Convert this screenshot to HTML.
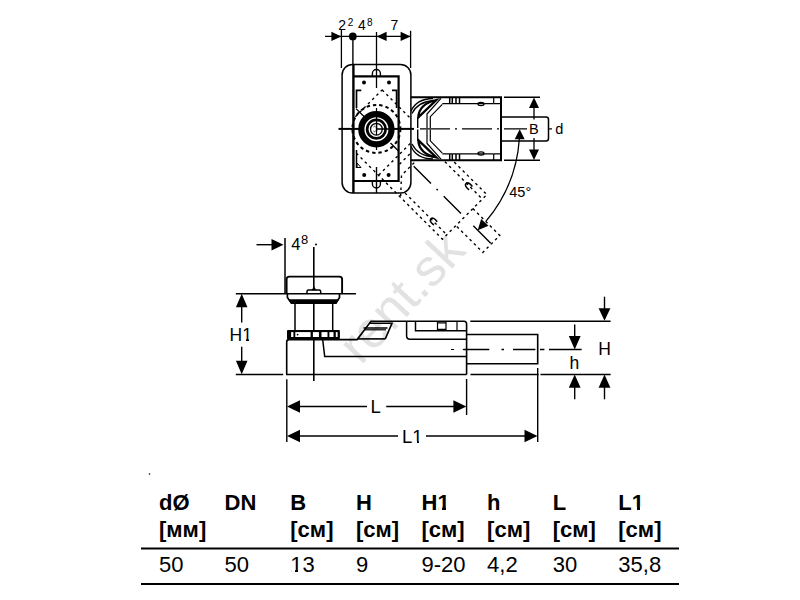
<!DOCTYPE html>
<html><head><meta charset="utf-8">
<style>
html,body{margin:0;padding:0;background:#fff;}
body{width:800px;height:600px;overflow:hidden;}
svg{display:block;}
text{font-family:"Liberation Sans",sans-serif;fill:#000;}
</style></head><body>
<svg width="800" height="600" viewBox="0 0 800 600">
<rect width="800" height="600" fill="#fff"/>
<text x="0" y="0" font-size="52" style="fill:#e2e2e2" transform="translate(361 366) rotate(-47)">rent.sk</text>
<g fill="none" stroke="#000" stroke-width="1.3" stroke-linecap="butt">
<line x1="325" y1="36.4" x2="410.6" y2="36.4" stroke-width="1.2"/>
<line x1="341.4" y1="29.7" x2="341.4" y2="68"/>
<line x1="352.9" y1="36.4" x2="352.9" y2="64.5" stroke-width="1.4"/>
<line x1="376.5" y1="32" x2="376.5" y2="88"/>
<line x1="410.6" y1="30.8" x2="410.6" y2="68"/>
<path d="M341.4 36.4 L331.4 41 L331.4 31.8 Z" fill="#000" stroke="none"/>
<path d="M376.6 36.4 L386.6 31.8 L386.6 41 Z" fill="#000" stroke="none"/>
<path d="M410.6 36.4 L400.6 41 L400.6 31.8 Z" fill="#000" stroke="none"/>
<circle cx="352.8" cy="36.4" r="3.9" fill="#000" stroke="none"/>
<rect x="342.1" y="64.5" width="68.8" height="128.5" rx="10.5" stroke-width="1.5"/>
<line x1="353.4" y1="64.5" x2="353.4" y2="193" stroke-width="2.4"/>
<path d="M353.4 76.3 H398.6 V181 H353.4" stroke-width="2.2"/>
<path d="M361.3 90.3 H356.5 V108 M392 90.3 H396.6 V108" stroke-width="1.7"/>
<path d="M356.5 150 V168" stroke-width="1.5"/>
<path d="M357 167.5 L361 167.5 L357 163 Z" fill="none" stroke-width="1"/>
<path d="M372.4 76.3 V73.5 A4 4 0 0 1 380.4 73.5 V76.3" stroke-width="1.4"/>
<path d="M372.4 181 V184 A4 4 0 0 0 380.4 184 V181" stroke-width="1.4"/>
<circle cx="364" cy="82.4" r="2" fill="#000" stroke="none"/>
<circle cx="389" cy="82.4" r="2" fill="#000" stroke="none"/>
<circle cx="364.2" cy="175" r="2" fill="#000" stroke="none"/>
<circle cx="388.6" cy="175" r="2" fill="#000" stroke="none"/>
<line x1="338.5" y1="128.9" x2="360" y2="128.9" stroke-width="2"/>
<line x1="393" y1="128.9" x2="414" y2="128.9" stroke-width="2"/>
<line x1="376.5" y1="108" x2="376.5" y2="150" stroke-width="1.2"/>
<line x1="376.5" y1="167" x2="376.5" y2="193" stroke-width="1.4"/>
<circle cx="376.4" cy="129.2" r="11.7" stroke-width="13"/>
<circle cx="376.4" cy="129.2" r="11.3" stroke="#fff" stroke-width="1.4"/>
<circle cx="376.4" cy="129.2" r="7.2" stroke="#fff" stroke-width="1.4"/>
<path d="M376.6 116.5 V131.5 M376.6 129 H390" stroke-width="1.3"/>
<path d="M373.5 127 Q374.5 125.5 375.5 127 M373.5 131 Q374.5 132.5 375.5 131" stroke-width="0.9"/>
<circle cx="376.4" cy="128.9" r="24" stroke-width="2" stroke-dasharray="3.4 3"/>
<path d="M356 108.6 L364.5 117 M390.5 143 L398.5 151" stroke-width="1.3"/>
<path d="M413.7 166.2 L431 183.5 M436.5 189 L437.8 190.3 M443.7 196.2 L461 213.5 M473.3 225.8 L490.7 243.2" stroke-width="1.4"/>
<path d="M410.7 97.3 H501 V160.2 H410.7" stroke-width="2"/>
<path d="M504 97.3 H540 M504 160.2 H540" stroke-width="1.4"/>
<path d="M501 117 H546 Q548.5 117 548.5 119.5 V138.5 Q548.5 141 546 141 H501" stroke-width="1.5"/>
<line x1="548.5" y1="128.9" x2="552" y2="128.9" stroke-width="1.2"/>
<path d="M420 128.9 H450 M455 128.9 H457 M462 128.9 H492 M497 128.9 H499 M504 128.9 H527" stroke-width="1.3"/>
<g><path d="M442.3 103.6 H493.7" stroke-width="1.3"/>
<path d="M449.7 97.3 V103.6 M452.3 97.3 V103.6 M456 97.3 V103.6 M459.5 97.3 V103.6" stroke-width="1.5"/>
<path d="M493.7 97.3 V103.6 M501 103.6 H493.7" stroke-width="1.2"/>
<ellipse cx="481" cy="104" rx="3" ry="1.6" stroke-width="1.3"/>
<path d="M441 98.3 L427 114 V128" stroke-width="1.2"/>
<path d="M442.3 104.3 L430.3 116.7 V128" stroke-width="1.2"/>
<path d="M411 111.3 Q416 99 433 98.5" stroke-width="1.3"/>
<path d="M412 113.5 Q418 101.5 434 100.5" stroke-width="1.3"/>
<path d="M418.3 117.3 Q419 104 436.3 100 L418.3 117.3 Z" stroke-width="2.3"/>
<path d="M417.7 117 V128" stroke-width="1.4"/></g>
<g transform="translate(0 257.5) scale(1 -1)"><path d="M442.3 103.6 H493.7" stroke-width="1.3"/>
<path d="M449.7 97.3 V103.6 M452.3 97.3 V103.6 M456 97.3 V103.6 M459.5 97.3 V103.6" stroke-width="1.5"/>
<path d="M493.7 97.3 V103.6 M501 103.6 H493.7" stroke-width="1.2"/>
<ellipse cx="481" cy="104" rx="3" ry="1.6" stroke-width="1.3"/>
<path d="M441 98.3 L427 114 V128" stroke-width="1.2"/>
<path d="M442.3 104.3 L430.3 116.7 V128" stroke-width="1.2"/>
<path d="M411 111.3 Q416 99 433 98.5" stroke-width="1.3"/>
<path d="M412 113.5 Q418 101.5 434 100.5" stroke-width="1.3"/>
<path d="M418.3 117.3 Q419 104 436.3 100 L418.3 117.3 Z" stroke-width="2.3"/>
<path d="M417.7 117 V128" stroke-width="1.4"/></g>
<path d="M534 97.5 L539 108 L529 108 Z" fill="#000" stroke="none"/>
<path d="M534 160 L529 149.5 L539 149.5 Z" fill="#000" stroke="none"/>
<line x1="534" y1="107" x2="534" y2="119.5" stroke-width="1.3"/>
<line x1="534" y1="138" x2="534" y2="150.5" stroke-width="1.3"/>
<path d="M519.36 138.7 A143.3 143.3 0 0 1 485.85 221.39" stroke-width="1.3"/>
<path d="M519.7 129.3 L524.7 139.3 L514.7 139.3 Z" fill="#000" stroke="none"/>
<path d="M477.73 230.23 L481.14 219.11 L488.51 225.86 Z" fill="#000" stroke="none"/>
<clipPath id="rclip"><path clip-rule="evenodd" d="M354.6 40 H800 V600 H354.6 Z M410 96.5 H502 V161 H410 Z"/></clipPath>
<g clip-path="url(#rclip)"><g transform="rotate(45 376.4 128.9)" stroke-width="1.4" stroke-dasharray="2.6 3.4">
<path d="M352.9 97.3 H501 V160.2 H352.9 Z"/>
<path d="M410.7 97.3 V160.2"/>
<path d="M442 103.6 H501 M442 154 H501"/>
<path d="M501 117 H539 V141 H501"/>
<path d="M417.7 117 V141 M427 114 V144 M441 98.3 L427 114 M441 159.2 L427 144"/>
<path d="M485 101.8 Q478.5 100.8 478.5 104.2 Q478.5 107.2 485 106.5 M485 156.2 Q478.5 157.2 478.5 153.8 Q478.5 150.8 485 151.5" stroke-dasharray="none" stroke-width="1.6"/>
</g></g>
</g>
<g font-size="14">
<text x="338.3" y="30">2</text><text x="347.8" y="25.8" font-size="10">2</text>
<text x="358.1" y="29.8">4</text><text x="367.1" y="25.8" font-size="10">8</text>
<text x="390.5" y="30">7</text>
<text x="529" y="133.5" font-size="14.5">B</text>
<text x="555.2" y="133.5" font-size="14.5">d</text>
<text x="509.3" y="197.4" font-size="14.5">45°</text>
</g>
<g fill="none" stroke="#000" stroke-width="1.5">
<line x1="256.5" y1="244.7" x2="272" y2="244.7" stroke-width="1.4"/>
<path d="M283.5 244.7 L271.5 250.5 L271.5 238.9 Z" fill="#000" stroke="none"/>
<line x1="285" y1="238" x2="285" y2="293" stroke-width="1.5"/>
<circle cx="316" cy="244.6" r="1" fill="#000" stroke="none"/>
<path d="M313.8 247 V288 M313.8 303 V381" stroke-width="1.6"/>
<path d="M286.6 293.6 V279.2 Q286.6 276.6 289.2 276.6 H339.5 Q342.1 276.6 342.1 279.2 V293.6" stroke-width="1.9"/>
<path d="M287.4 293.6 V297.5 L291.4 303.2 H336 L339.5 297.5 V293.6" stroke-width="1.7"/>
<path d="M288 299.2 H339.2 L336 303.4 H291.2 Z" fill="#000" stroke="none"/>
<path d="M307 293.6 V291.4 Q307 290.1 308.5 290.1 H319.2 Q320.7 290.1 320.7 291.4 V293.6" stroke-width="1.5"/>
<path d="M311.5 290.3 L314 286.5 L316.5 290.3 Z" fill="#000" stroke="none"/>
<line x1="235.8" y1="293.7" x2="356" y2="293.7" stroke-width="1.5"/>
<line x1="295" y1="303.5" x2="295" y2="330" stroke-width="1.5"/>
<line x1="332.7" y1="303.5" x2="332.7" y2="330" stroke-width="1.5"/>
<rect x="287" y="329.9" width="52.9" height="9.4" rx="1" fill="#000" stroke="none"/>
<rect x="295.3" y="332.1" width="15.30" height="4.9" fill="#fff" stroke="none"/>
<rect x="312.9" y="332.1" width="6.00" height="4.9" fill="#fff" stroke="none"/>
<rect x="321.5" y="332.1" width="6.00" height="4.9" fill="#fff" stroke="none"/>
<rect x="329.4" y="332.1" width="4.10" height="4.9" fill="#fff" stroke="none"/>
<rect x="335.8" y="332.1" width="1.80" height="4.9" fill="#fff" stroke="none"/>
<rect x="291.1" y="332.1" width="2.30" height="4.9" fill="#fff" stroke="none"/>
<circle cx="297.6" cy="334.6" r="0.9" fill="#000" stroke="none"/>
<line x1="313.8" y1="331" x2="313.8" y2="338" stroke="#fff" stroke-width="0"/>
<path d="M286.7 374.5 V342 Q286.7 339.6 289 339.6 H357.1 L371 321.3 H464 Q466.6 321.3 466.6 324 V374.5" stroke-width="1.6"/>
<path d="M322.7 339.6 L324.7 356.5 H466.6" stroke-width="1.5"/>
<path d="M369.1 323.2 H392 L385.3 338.9 M363.5 328 H387.5" stroke-width="1.6"/>
<path d="M357.5 338.9 H385.3" stroke-width="1.6"/>
<line x1="365" y1="329.8" x2="386" y2="329.8" stroke-width="1.2"/>
<path d="M406.6 321.3 V336 Q406.6 339.2 410 339.2 H466.6" stroke-width="1.5"/>
<path d="M415.5 321.3 V330.8 H466.6" stroke-width="1.5"/>
<path d="M437.5 321.3 V330.8 M446 321.3 V330.8 M457 321.3 V330.8 M437.5 322.8 H446 M437.5 329.3 H446" stroke-width="1.2"/>
<path d="M451 349.5 H454 M462.8 349.5 H466" stroke-width="1.2"/>
<path d="M466.6 334.5 H537.7 V363.8 H466.6" stroke-width="1.6"/>
<path d="M463.4 349.5 H489.3 M501.5 349.5 H504 M513 349.5 H535.4 M540 349.5 H544.4 M549 349.5 H581.6" stroke-width="1.4"/>
<line x1="470.3" y1="321.3" x2="610.6" y2="321.3" stroke-width="1.5"/>
<path d="M235.8 374.5 H283.2 M286 374.5 H466.6 M470.5 374.5 H538.5 M540.5 374.5 H610.6" stroke-width="1.5"/>
<path d="M241.7 293.7 L247.5 307.2 L235.9 307.2 Z" fill="#000" stroke="none"/>
<path d="M241.7 374.3 L235.9 360.8 L247.5 360.8 Z" fill="#000" stroke="none"/>
<line x1="241.7" y1="307" x2="241.7" y2="322.5" stroke-width="1.4"/>
<line x1="241.7" y1="346.7" x2="241.7" y2="361.5" stroke-width="1.4"/>
<line x1="604.5" y1="296.7" x2="604.5" y2="309" stroke-width="1.4"/>
<path d="M604.5 320.8 L598.6 308.3 L610.4 308.3 Z" fill="#000" stroke="none"/>
<line x1="574.7" y1="324.5" x2="574.7" y2="337" stroke-width="1.4"/>
<path d="M574.7 349.4 L568.8 336.1 L580.6 336.1 Z" fill="#000" stroke="none"/>
<path d="M574.7 374.4 L580.6 387.8 L568.8 387.8 Z" fill="#000" stroke="none"/>
<path d="M604.5 374.4 L610.4 387.8 L598.6 387.8 Z" fill="#000" stroke="none"/>
<line x1="574.7" y1="387" x2="574.7" y2="399.3" stroke-width="1.4"/>
<line x1="604.5" y1="387" x2="604.5" y2="399.3" stroke-width="1.4"/>
<line x1="286.8" y1="379.3" x2="286.8" y2="442" stroke-width="1.4"/>
<line x1="466.6" y1="379" x2="466.6" y2="415" stroke-width="1.4"/>
<line x1="537.7" y1="368" x2="537.7" y2="442" stroke-width="1.4"/>
<path d="M287 406.5 L300 400.3 L300 412.7 Z" fill="#000" stroke="none"/>
<path d="M466.4 406.5 L453.4 412.7 L453.4 400.3 Z" fill="#000" stroke="none"/>
<line x1="299" y1="406.5" x2="367" y2="406.5" stroke-width="1.4"/>
<line x1="386.2" y1="406.5" x2="454" y2="406.5" stroke-width="1.4"/>
<path d="M287 436 L300 429.8 L300 442.2 Z" fill="#000" stroke="none"/>
<path d="M537.5 436 L524.5 442.2 L524.5 429.8 Z" fill="#000" stroke="none"/>
<line x1="299" y1="436" x2="398" y2="436" stroke-width="1.4"/>
<line x1="426" y1="436" x2="525" y2="436" stroke-width="1.4"/>
</g>
<g font-size="17.5">
<text x="291.3" y="249.6" font-size="16.5">4</text><text x="301" y="244" font-size="13">8</text>
<text x="229.5" y="341">H1</text>
<text x="569.5" y="368.7">h</text>
<text x="598.3" y="354.9">H</text>
<text x="370.5" y="413" font-size="18.5">L</text>
<text x="402" y="442.8" font-size="18.5">L1</text>
</g>
<g font-weight="bold" font-size="22">
<text x="159" y="510">dØ</text>
<text x="224.5" y="510">DN</text>
<text x="290.3" y="510">B</text>
<text x="355.9" y="510">H</text>
<text x="421.5" y="510">H1</text>
<text x="487.1" y="510">h</text>
<text x="552.7" y="510">L</text>
<text x="618.3" y="510">L1</text>
<text x="159" y="537">[мм]</text>
<text x="290.3" y="537">[см]</text>
<text x="355.9" y="537">[см]</text>
<text x="421.5" y="537">[см]</text>
<text x="487.1" y="537">[см]</text>
<text x="552.7" y="537">[см]</text>
<text x="618.3" y="537">[см]</text>
</g><g font-size="22">
<text x="159" y="572">50</text>
<text x="224.5" y="572">50</text>
<text x="290.3" y="572">13</text>
<text x="355.9" y="572">9</text>
<text x="421.5" y="572">9-20</text>
<text x="487.1" y="572">4,2</text>
<text x="552.7" y="572">30</text>
<text x="618.3" y="572">35,8</text>
</g>
<line x1="141" y1="548.6" x2="679" y2="548.6" stroke="#000" stroke-width="2"/>
<line x1="141" y1="584" x2="679" y2="584" stroke="#000" stroke-width="2"/>
<circle cx="149.5" cy="474" r="0.8" fill="#000"/>
<rect x="439" y="507" width="3" height="3" fill="#fff"/>
<rect x="446" y="507" width="4" height="3" fill="#fff"/>
<rect x="633" y="507" width="4" height="3" fill="#fff"/>
<rect x="640" y="507" width="4" height="3" fill="#fff"/>
<rect x="292" y="570" width="3" height="2" fill="#fff"/>
<rect x="298" y="570" width="4" height="2" fill="#fff"/>
<rect x="243" y="339" width="3" height="2" fill="#fff"/>
<rect x="249" y="339" width="3" height="2" fill="#fff"/>
<rect x="413" y="441" width="4" height="2" fill="#fff"/>
<rect x="419" y="441" width="3" height="2" fill="#fff"/>
</svg>
</body></html>
